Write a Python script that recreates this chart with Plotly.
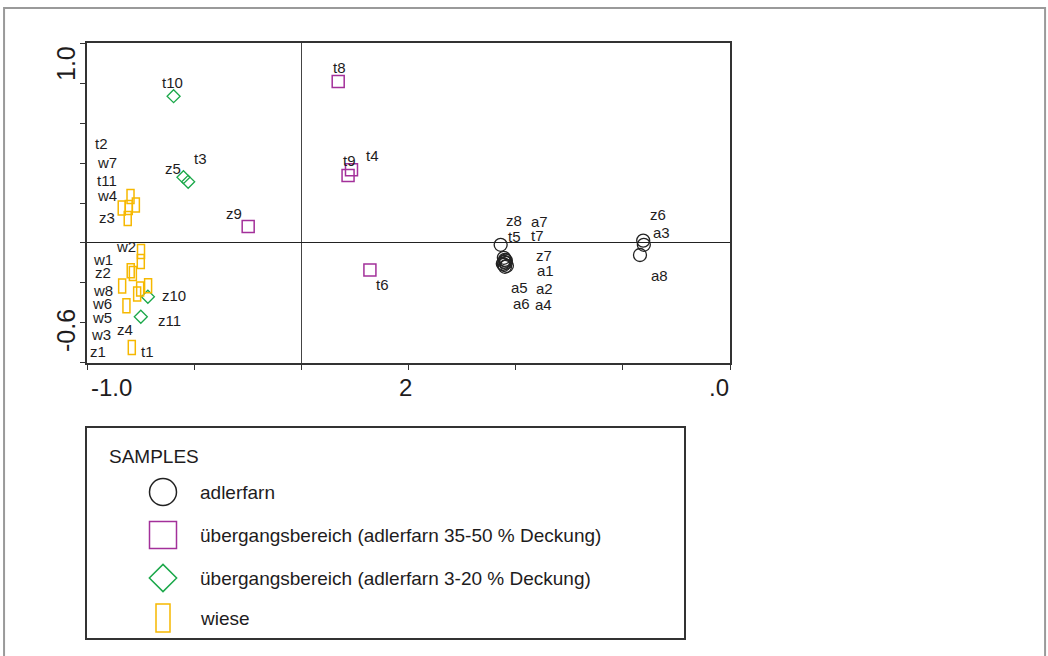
import plotly.graph_objects as go

# ---------------- data ----------------
# adlerfarn (circles)
adler_names = ["t5", "z8", "a7", "t7", "z7", "a1", "a5", "a2", "a6", "a4", "z6", "a3", "a8"]
adler_x = [0.930, 0.945, 0.950, 0.954, 0.945, 0.959, 0.950, 0.940, 0.954, 0.947, 1.598, 1.595, 1.580]
adler_y = [-0.009, -0.074, -0.084, -0.099, -0.109, -0.114, -0.119, -0.104, -0.088, -0.094, -0.009, 0.012, -0.060]

# übergangsbereich 35-50 % (squares)
ueb35_names = ["z9", "t8", "t9", "t4", "t6"]
ueb35_x = [-0.248, 0.172, 0.218, 0.234, 0.320]
ueb35_y = [0.083, 0.808, 0.337, 0.366, -0.135]

# übergangsbereich 3-20 % (diamonds)
ueb3_names = ["t10", "z5", "t3", "z10", "z11"]
ueb3_x = [-0.596, -0.550, -0.528, -0.716, -0.749]
ueb3_y = [0.734, 0.329, 0.306, -0.269, -0.369]

# wiese (tall rectangles)
wiese_names = ["w4", "z3", "t11", "w7", "t2", "w2", "w1", "z2", "w8", "w6", "w5", "z4", "w3", "z1", "t1"]
wiese_x = [-0.797, -0.838, -0.805, -0.772, -0.810, -0.748, -0.749, -0.796, -0.786, -0.836,
           -0.715, -0.752, -0.766, -0.816, -0.791]
wiese_y = [0.232, 0.175, 0.178, 0.190, 0.123, -0.042, -0.092, -0.139, -0.152, -0.215,
           -0.214, -0.230, -0.255, -0.314, -0.523]

legend_title = "SAMPLES"
legend_labels = ["adlerfarn",
                 "übergangsbereich (adlerfarn 35-50 % Deckung)",
                 "übergangsbereich (adlerfarn 3-20 % Deckung)",
                 "wiese"]

x_tick_labels = ["-1.0", "2", ".0"]
x_tick_pos = [-1.0, 0.5, 2.0]
y_tick_labels = ["1.0", "-0.6"]
y_tick_pos = [1.0, -0.6]

# ---------------- style: label pixel offsets (dx right, dy down) ----------------
adler_off = [(14, -8), (10, -37), (35, -38), (32, -27), (40, -9), (39, 5), (15, 21), (42, 25),
             (16, 43), (39, 43), (14, -30), (18, -8), (20, 21)]
ueb35_off = [(-14, -13), (1, -14), (1, -15), (21, -14), (13, 15)]
ueb3_off = [(-1, -14), (-10, -9), (12, -23), (26, -1), (29, 4)]
wiese_off = [(-24, -1), (-15, 9), (-22, -27), (-29, -43), (-26, -75), (-15, -5), (-38, -2),
             (-28, 2), (-30, 17), (-20, 18), (-46, 32), (-15, 41), (-36, 41), (-28, 46), (16, 4)]

BLACK = "#222222"
PURPLE = "#A3309A"
GREEN = "#1BA84A"
YELLOW = "#F6B800"
FONT = "Liberation Sans, Arial, Helvetica, sans-serif"
TXT = "#1e1c1d"

fig = go.Figure()

fig.add_trace(go.Scatter(x=adler_x, y=adler_y, mode="markers", text=adler_names,
                         marker=dict(symbol="circle-open", size=13, color=BLACK, line=dict(width=1.3)),
                         showlegend=False, xaxis="x", yaxis="y"))
fig.add_trace(go.Scatter(x=ueb35_x, y=ueb35_y, mode="markers", text=ueb35_names,
                         marker=dict(symbol="square-open", size=12, color=PURPLE, line=dict(width=1.5)),
                         showlegend=False, xaxis="x", yaxis="y"))
fig.add_trace(go.Scatter(x=ueb3_x, y=ueb3_y, mode="markers", text=ueb3_names,
                         marker=dict(symbol="diamond-open", size=10, color=GREEN, line=dict(width=1.3)),
                         showlegend=False, xaxis="x", yaxis="y"))
# invisible hover carrier for wiese; the rectangles are drawn as pixel-sized shapes anchored to data
fig.add_trace(go.Scatter(x=wiese_x, y=wiese_y, mode="markers", text=wiese_names,
                         marker=dict(size=8, color=YELLOW, opacity=0),
                         showlegend=False, xaxis="x", yaxis="y"))

shapes = []
for wx, wy in zip(wiese_x, wiese_y):
    shapes.append(dict(type="rect", xref="x", yref="y", xsizemode="pixel", ysizemode="pixel",
                       xanchor=wx, yanchor=wy, x0=-3.5, x1=3.5, y0=-7, y1=7,
                       line=dict(color=YELLOW, width=1.5), layer="above"))

annotations = []
for names, xs, ys, offs in [(adler_names, adler_x, adler_y, adler_off),
                            (ueb35_names, ueb35_x, ueb35_y, ueb35_off),
                            (ueb3_names, ueb3_x, ueb3_y, ueb3_off),
                            (wiese_names, wiese_x, wiese_y, wiese_off)]:
    for n, xv, yv, (dx, dy) in zip(names, xs, ys, offs):
        annotations.append(dict(x=xv, y=yv, xref="x", yref="y", text=n, showarrow=False,
                                xshift=dx, yshift=-dy, xanchor="center", yanchor="middle",
                                font=dict(family=FONT, size=15, color=TXT)))

# x tick labels
for lab, pos, anc, xs in zip(x_tick_labels, x_tick_pos, ["left", "center", "right"], [2, -3, 1]):
    annotations.append(dict(x=pos, y=-0.6, xref="x", yref="y", text=lab, showarrow=False,
                            xanchor=anc, yanchor="top", yshift=-9, xshift=xs,
                            font=dict(family=FONT, size=24, color=TXT)))
# y tick labels (rotated)
annotations.append(dict(x=-1.0, y=y_tick_pos[0], xref="x", yref="y", text=y_tick_labels[0], showarrow=False,
                        textangle=-90, xanchor="center", yanchor="middle", xshift=-21, yshift=-21,
                        font=dict(family=FONT, size=25, color=TXT)))
annotations.append(dict(x=-1.0, y=y_tick_pos[1], xref="x", yref="y", text=y_tick_labels[1], showarrow=False,
                        textangle=-90, xanchor="center", yanchor="middle", xshift=-21, yshift=32,
                        font=dict(family=FONT, size=25, color=TXT)))

# ---------------- legend panel (second axes, units = pixels) ----------------
fig.add_trace(go.Scatter(x=[76], y=[146], mode="markers", xaxis="x2", yaxis="y2",
                         marker=dict(symbol="circle-open", size=27, color=BLACK, line=dict(width=1.5)),
                         showlegend=False, hoverinfo="skip"))
fig.add_trace(go.Scatter(x=[76], y=[103], mode="markers", xaxis="x2", yaxis="y2",
                         marker=dict(symbol="square-open", size=27, color=PURPLE, line=dict(width=1.5)),
                         showlegend=False, hoverinfo="skip"))
fig.add_trace(go.Scatter(x=[76], y=[60], mode="markers", xaxis="x2", yaxis="y2",
                         marker=dict(symbol="diamond-open", size=21, color=GREEN, line=dict(width=1.5)),
                         showlegend=False, hoverinfo="skip"))
shapes.append(dict(type="rect", xref="x2", yref="y2", xsizemode="pixel", ysizemode="pixel",
                   xanchor=76, yanchor=20, x0=-7, x1=7, y0=-14, y1=14,
                   line=dict(color=YELLOW, width=1.5)))

annotations.append(dict(x=20, y=182, xref="x2", yref="y2", text=legend_title, showarrow=False,
                        xanchor="left", yanchor="middle", font=dict(family=FONT, size=19, color=TXT)))
for lab, ly in zip(legend_labels, [146, 103, 60, 20]):
    annotations.append(dict(x=111, y=ly, xref="x2", yref="y2", text=lab, showarrow=False,
                            xanchor="left", yanchor="middle", font=dict(family=FONT, size=19, color=TXT)))

# outer gray frame
shapes.append(dict(type="rect", xref="paper", yref="paper", x0=-0.129, x1=1.490, y0=-0.2, y1=1.0588,
                   line=dict(color="#9a9a9a", width=2), layer="below"))

fig.update_layout(
    width=1048, height=656,
    margin=dict(l=87, r=318, t=43, b=18),
    paper_bgcolor="white", plot_bgcolor="white",
    shapes=shapes, annotations=annotations,
    xaxis=dict(domain=[0, 1], range=[-1.0, 2.0], anchor="y", showgrid=False,
               zeroline=True, zerolinecolor="#444444", zerolinewidth=1.2,
               showline=True, mirror=True, linecolor="#333333", linewidth=1.5,
               ticks="outside", ticklen=5, tickcolor="#333333", tick0=-1.0, dtick=0.5,
               showticklabels=False),
    yaxis=dict(domain=[0.4622, 1], range=[-0.6, 1.0], anchor="x", showgrid=False,
               zeroline=True, zerolinecolor="#222222", zerolinewidth=1.2,
               showline=True, mirror=True, linecolor="#333333", linewidth=1.5,
               ticks="outside", ticklen=5, tickcolor="#333333", tick0=0, dtick=0.2,
               showticklabels=False),
    xaxis2=dict(domain=[0, 0.9285], range=[0, 597], anchor="y2", showgrid=False, zeroline=False,
                showline=True, mirror=True, linecolor="#333333", linewidth=2,
                showticklabels=False, ticks=""),
    yaxis2=dict(domain=[0, 0.3529], range=[0, 210], anchor="x2", showgrid=False, zeroline=False,
                showline=True, mirror=True, linecolor="#333333", linewidth=2,
                showticklabels=False, ticks=""),
)

fig.write_html("out.html", config={"displayModeBar": False},
               post_script="document.body.style.margin='0';")
